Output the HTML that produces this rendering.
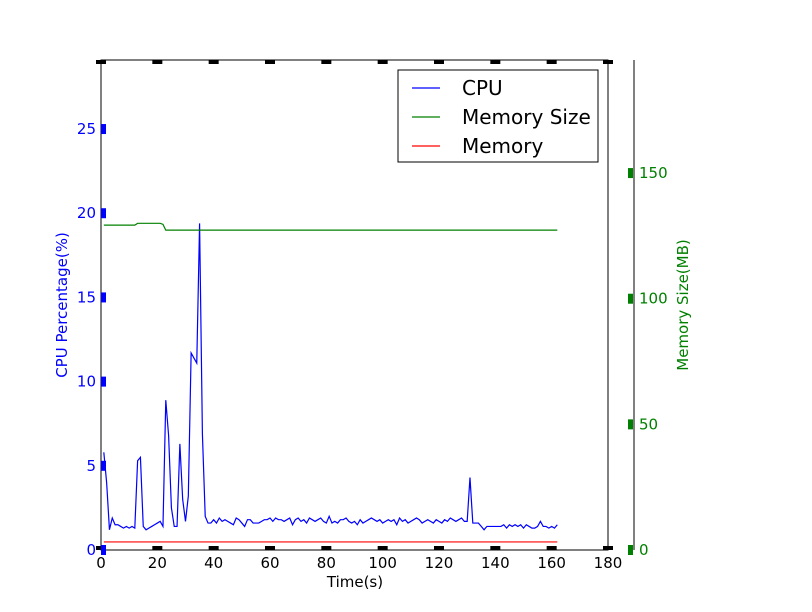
<!DOCTYPE html>
<html><head><meta charset="utf-8"><style>
body{margin:0;background:#fff}
svg{display:block;font-family:"DejaVu Sans","Liberation Sans",sans-serif}
</style></head><body>
<svg id="chart" width="812" height="612" viewBox="0 0 812 612"></svg>
<script>
const cpuValues=[5.8,4.0,1.2,1.9,1.5,1.5,1.4,1.3,1.4,1.3,1.4,1.3,5.3,5.5,1.4,1.2,1.3,1.4,1.5,1.6,1.7,1.4,8.9,6.8,2.5,1.4,1.4,6.3,3.0,1.7,3.2,11.7,11.4,11.1,19.4,6.9,2.0,1.6,1.6,1.8,1.6,1.9,1.7,1.8,1.7,1.6,1.5,1.9,1.8,1.6,1.4,1.8,1.8,1.6,1.6,1.6,1.7,1.8,1.8,1.9,1.7,1.9,1.8,1.8,1.7,1.8,1.9,1.5,1.8,1.9,1.7,1.8,1.6,1.9,1.8,1.7,1.8,1.9,1.7,1.6,2.0,1.6,1.7,1.6,1.8,1.8,1.9,1.7,1.6,1.7,1.5,1.8,1.6,1.7,1.8,1.9,1.8,1.7,1.8,1.6,1.7,1.8,1.7,1.8,1.5,1.9,1.7,1.8,1.6,1.7,1.8,1.9,1.8,1.6,1.7,1.8,1.7,1.6,1.8,1.7,1.6,1.8,1.7,1.9,1.8,1.7,1.8,1.9,1.7,1.7,4.3,1.6,1.6,1.6,1.4,1.2,1.4,1.4,1.4,1.4,1.4,1.4,1.5,1.3,1.5,1.4,1.5,1.4,1.5,1.3,1.5,1.4,1.3,1.3,1.4,1.7,1.4,1.4,1.3,1.4,1.3,1.5];
const memSizeTimes=[1,12,13,21,22,23,162];
const memSizeValues=[129.3,129.3,130,130,129.6,127.3,127.3];
const memTimes=[1,162];
const memValues=[3.2,3.2];
const xTicks=[0,20,40,60,80,100,120,140,160,180];
const yLeftTicks=[0,5,10,15,20,25];
const yRightTicks=[0,50,100,150];

const NS="http://www.w3.org/2000/svg";
const svg=document.getElementById('chart');
const L=101,R=608,T=60,B=550,R2=634;
const X=t=>L+t/180*(R-L);
const YL=v=>B-v/29.1*(B-T);
const YR=v=>B-v/195*(B-T);
function mk(tag,attrs,parent){const e=document.createElementNS(NS,tag);for(const k in attrs)e.setAttribute(k,attrs[k]);(parent||svg).appendChild(e);return e;}

const frame=mk('rect',{x:L,y:T,width:R-L,height:B-T,fill:'none',stroke:'#000','stroke-width':1});


const spine=mk('line',{x1:R2,y1:T,x2:R2,y2:B,stroke:'#000','stroke-width':1});



const cpuPts=cpuValues.map((v,i)=>X(i+1)+','+YL(v)).join(' ');
const cpuLine=mk('polyline',{points:cpuPts,fill:'none',stroke:'#0000ff','stroke-width':1.2});


const msPts=memSizeValues.map((v,i)=>X(memSizeTimes[i])+','+YR(v)).join(' ');
const msLine=mk('polyline',{points:msPts,fill:'none',stroke:'#008000','stroke-width':1.2});


const mPts=memValues.map((v,i)=>X(memTimes[i])+','+YR(v)).join(' ');
const mLine=mk('polyline',{points:mPts,fill:'none',stroke:'#ff0000','stroke-width':1.2});



xTicks.forEach(t=>{
  const x=X(t);
  const a=mk('rect',{x:x-5,y:B-4,width:10,height:4,fill:'#000'});
  
  
  const b=mk('rect',{x:x-5,y:T,width:10,height:4,fill:'#000'});
  
  
  const lb=mk('text',{x:x,y:B+18,'text-anchor':'middle','font-size':15,fill:'#000'});
  lb.textContent=t;
  
  
});
yLeftTicks.forEach(v=>{
  const y=YL(v);
  const tk=mk('rect',{x:L,y:y-5,width:5,height:10,fill:'#0000ff'});
  
  
  const lb=mk('text',{x:L-5,y:y+5,'text-anchor':'end','font-size':15,fill:'#0000ff'});
  lb.textContent=v;
  
  
});
yRightTicks.forEach(v=>{
  const y=YR(v);
  const tk=mk('rect',{x:R2-6,y:y-5,width:5,height:10,fill:'#008000'});
  
  
  const lb=mk('text',{x:R2+5,y:y+5,'text-anchor':'start','font-size':15,fill:'#008000'});
  lb.textContent=v;
  
  
});
const xt=mk('text',{x:355,y:587,'text-anchor':'middle','font-size':15,fill:'#000'});
xt.textContent='Time(s)';


const yt=mk('text',{x:0,y:0,'text-anchor':'middle','font-size':15,fill:'#0000ff',transform:'translate(67,305) rotate(-90)'});
yt.textContent='CPU Percentage(%)';


const yt2=mk('text',{x:0,y:0,'text-anchor':'middle','font-size':15,fill:'#008000',transform:'translate(688,305) rotate(-90)'});
yt2.textContent='Memory Size(MB)';



const lg=mk('g',{});


mk('rect',{x:398,y:70,width:200,height:92,fill:'#fff',stroke:'#000','stroke-width':1},lg);
[['CPU','#0000ff',88],['Memory Size','#008000',117],['Memory','#ff0000',146]].forEach(e=>{
  const g=mk('g',{},lg);
  
  
  mk('line',{x1:412,y1:e[2],x2:440,y2:e[2],stroke:e[1],'stroke-width':1.2},g);
  const tx=mk('text',{x:462,y:e[2]+7,'font-size':20,fill:'#000'},g);
  tx.textContent=e[0];
});
</script>
</body></html>
